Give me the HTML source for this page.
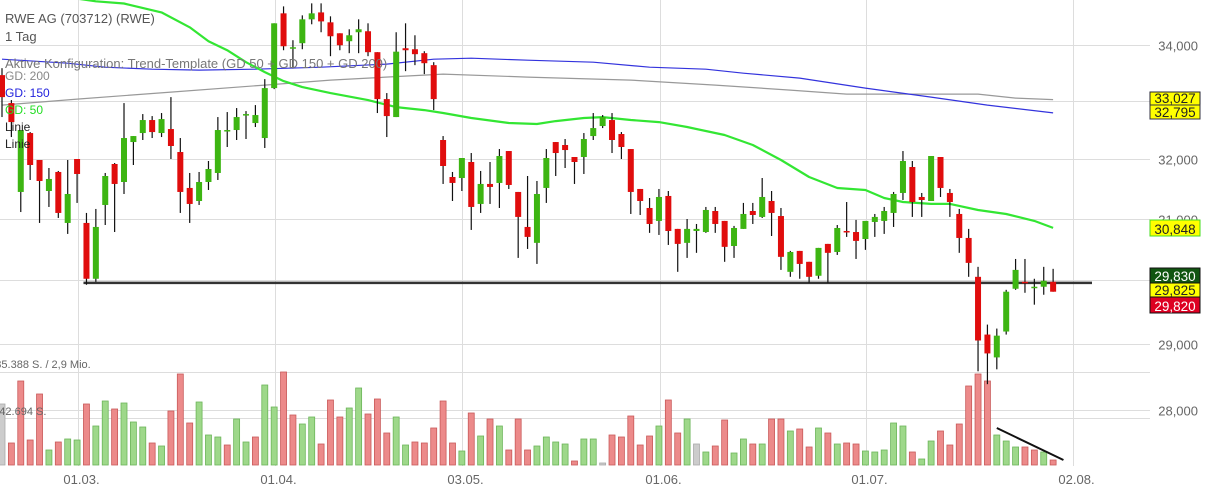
<!DOCTYPE html>
<html><head><meta charset="utf-8"><style>
html,body{margin:0;padding:0;background:#fff;}
svg{display:block;font-family:"Liberation Sans",sans-serif;}
</style></head><body>
<svg id="chart" width="1205" height="493" viewBox="0 0 1205 493" xmlns="http://www.w3.org/2000/svg">
<g id="grid"></g>
<g id="vol"></g>
<g id="ma"></g>
<g id="candles"></g>
<g id="axis"></g>
<g id="legend">
<text x="5" y="23" font-size="13" fill="#555">RWE AG (703712) (RWE)</text>
<text x="5" y="41" font-size="13" fill="#555">1 Tag</text>
<text x="5" y="68" font-size="13" fill="#777">Aktive Konfiguration: Trend-Template (GD 50 + GD 150 + GD 200)</text>
<text x="5" y="80" font-size="12" fill="#888">GD: 200</text>
<text x="5" y="97" font-size="12" fill="#2222dd">GD: 150</text>
<text x="5" y="114" font-size="12" fill="#22dd22">GD: 50</text>
<text x="5" y="131" font-size="12" fill="#222">Linie</text>
<text x="5" y="148" font-size="12" fill="#222">Linie</text>
<text x="-20" y="368" font-size="11" fill="#666">2.885.388 S. / 2,9 Mio.</text>
<text x="-16" y="415" font-size="11" fill="#666">1.442.694 S.</text>
</g>
</svg>
<script>
const opens=[33460,32966,31444,32445,31983,31460,31780,30930,32000,30930,30025,31227,31915,31611,32290,32445,32670,32445,32514,32119,31511,31293,31611,31763,32480,32497,32757,32618,32359,33230,34578,33942,34033,34468,34595,34413,34213,34069,34232,34250,33871,33036,32722,33942,33924,33853,33638,32325,31695,31678,31949,31244,31578,31595,32136,31444,30864,30604,31511,32290,32239,32034,32034,32393,32566,32670,32428,32170,31494,31177,30963,31377,30832,30604,30798,30781,31127,30963,30553,30832,31127,31029,31293,31044,30136,30473,30297,30073,30587,30456,30798,30781,30667,30946,30963,31095,31427,31864,31360,31293,32034,31427,31078,30684,30056,29147,28795,29194,29866,29977,29881,29898,29977];
const highs=[33584,33019,32497,32462,31983,31847,31797,31983,32000,31095,31161,31763,31932,32966,32393,32774,32739,32792,33071,32359,31763,31780,31966,32722,32809,32879,32826,32931,33389,34395,34706,34087,34541,34762,34762,34523,34213,34286,34468,34395,33871,33142,34232,34395,34177,33888,33691,32393,31780,32017,32102,31797,31949,32170,32136,31444,31712,31628,32170,32290,32342,32034,32445,32792,32757,32792,32462,32170,31494,31343,31494,31460,30832,30995,30913,31194,31194,30963,30881,31261,31261,31678,31460,31177,30473,30473,30297,30522,30587,30896,31276,30980,30963,31078,31194,31444,32136,31966,31427,32051,32034,31494,31161,30832,30216,29302,29240,29849,30343,30343,30025,30216,30184];
const lows=[32722,32376,31110,31645,30930,31194,31012,30750,31261,29929,29977,30896,30781,31410,31898,32325,32359,32376,32000,31095,30930,31227,31477,31645,32205,32325,32342,32549,32188,33212,33906,33584,33924,34377,34232,33799,33906,33853,33853,33799,32792,32376,32722,33531,33638,33478,32844,31578,31293,31460,30815,31095,31244,31177,31494,30360,30505,30263,31261,31712,31847,31578,31746,32325,32531,32102,32000,31078,31061,30767,30733,30570,30136,30360,30442,30767,30767,30297,30360,30832,30913,31012,30716,30167,30056,30025,29960,30025,29960,30408,30701,30343,30490,30701,30750,30864,31310,31029,31029,31293,31360,31029,30442,30056,28583,28388,28613,29147,29849,29802,29614,29771,29819];
const closes=[33071,32635,32497,31898,31628,31662,31095,31410,31746,30025,30864,31712,31578,32359,32393,32670,32462,32687,32222,31444,31244,31611,31830,32497,32497,32722,32774,32757,33230,34395,33978,33960,34468,34578,34430,34159,33996,34177,34286,33871,33036,32739,33880,33906,33835,33673,33036,31881,31595,32017,31194,31578,31528,32051,31561,31029,30701,31410,32017,32102,32153,31949,32342,32531,32722,32325,32205,31444,31293,30913,31360,30798,30587,30832,30832,31144,30913,30539,30847,31078,31061,31360,31095,30377,30456,30263,30056,30522,30442,30847,30781,30636,30963,31029,31127,31410,31966,31276,31310,32051,31511,31276,30684,30280,29055,28856,29130,29819,30167,29960,29898,29993,29819];
const volumes=[1891,682,2604,775,2201,465,713,806,775,1891,1209,1984,1736,1922,1333,1178,682,589,1674,2821,1302,1953,930,868,620,1426,713,868,2480,1798,2883,1550,1271,1488,651,2015,1488,1767,2387,1581,2046,992,1488,620,713,682,1147,1984,682,434,1612,899,1426,1209,465,1426,465,589,868,713,651,124,806,806,62,930,868,1519,620,899,1209,2015,992,1426,651,403,589,1395,372,806,651,651,1426,1426,1054,1116,558,1147,992,651,682,651,434,403,465,1302,1209,403,186,744,1054,620,1271,2449,2821,2604,930,744,558,558,465,403,155];
const volDir="n d d d d u d u u d u u d u u u d u d d d u u u d u u d u u d d u u d d d u u d d d u u d d d d d u d u d u d d d u u u u d u u n d d d d d u d d u n u d d u u d u d d u d d u d u d d u u u u u d u u d d d d d d u u u d d u d".split(" ");
const ma50Idx=[8,10,13,17,20,22,24,26,28,30,32,35,39,42,45,47,50,54,57,59,62,64,67,70,73,77,80,83,86,89,92,94,96,99,101,102,104,107,110,112];
const ma50Val=[34850,34800,34760,34596,34322,34069,33906,33691,33513,33353,33247,33142,33019,32896,32844,32792,32705,32618,32601,32652,32705,32722,32670,32635,32549,32411,32239,31983,31695,31511,31477,31343,31276,31244,31244,31211,31144,31078,30963,30848];
const ma150Idx=[0,7,11,16,21,27,34,41,46,50,56,63,69,75,79,85,92,99,105,112];
const ma150Val=[33745,33673,33602,33566,33549,33566,33602,33656,33745,33763,33727,33691,33602,33566,33495,33407,33230,33071,32931,32795];
const ma200Idx=[0,8,18,28,35,47,56,67,76,84,90,104,108,112];
const ma200Val=[32931,33036,33159,33283,33371,33478,33424,33371,33283,33194,33124,33124,33054,33027];
const supportLevel=29960;
const priceTicks=[34000,33000,32000,31000,30000,29000,28000];
const priceTickLabels=["34,000","33,000","32,000","31,000","30,000","29,000","28,000"];
const dateGridIdx=[8.1,29.1,49,70.1,92.06,114.1];
const dateLabels=["01.03.","01.04.","03.05.","01.06.","01.07.","02.08."];

const NS="http://www.w3.org/2000/svg";
const X=i=>2+i*9.385;
const Y=p=>159-1880*Math.log(p/32000);
const VY=v=>465-v/31;
function mk(tag,attrs,parent){const e=document.createElementNS(NS,tag);for(const k in attrs)e.setAttribute(k,attrs[k]);parent.appendChild(e);return e;}
const grid=document.getElementById('grid'),axis=document.getElementById('axis'),vol=document.getElementById('vol'),ma=document.getElementById('ma'),cg=document.getElementById('candles');

priceTicks.forEach((p,k)=>{
  const y=Math.round(Y(p))+0.5;
  const l=mk('line',{x1:0,x2:1150,y1:y,y2:y,stroke:'#ddd','stroke-width':1},grid);
  
  
  const t=mk('text',{x:1198,y:y+5,'text-anchor':'end','font-size':13,fill:'#666'},axis);
  
  
  t.textContent=priceTickLabels[k];
});
[372.5,418.5].forEach(y=>{
  const l=mk('line',{x1:0,x2:1150,y1:y,y2:y,stroke:'#ddd','stroke-width':1},grid);
  
  
});
dateGridIdx.forEach((d,k)=>{
  const x=Math.round(X(d))+0.5;
  const l=mk('line',{x1:x,x2:x,y1:0,y2:466,stroke:'#ddd','stroke-width':1},grid);
  
  
  const t=mk('text',{x:x+3,y:484,'text-anchor':'middle','font-size':13,fill:'#666'},axis);
  
  
  t.textContent=dateLabels[k];
});

volumes.forEach((v,i)=>{
  const d=volDir[i];
  const fill=d==='u'?'#9ed88a':d==='d'?'#ec8a8a':'#ccc';
  const st=d==='u'?'#6cb55a':d==='d'?'#c95a5a':'#aaa';
  const y=VY(v);
  const r=mk('rect',{x:X(i)-3,y:y,width:6,height:465-y,fill:fill,stroke:st,'stroke-width':0.8},vol);
  
  
});
const tl=mk('line',{x1:X(106),y1:428,x2:X(113.1),y2:460,stroke:'#111','stroke-width':2},vol);



function maPath(idx,val,color,w,name){
  let d='';
  idx.forEach((ix,k)=>{d+=(k?'L':'M')+X(ix).toFixed(1)+','+Y(val[k]).toFixed(1);});
  const p=mk('path',{d:d,fill:'none',stroke:color,'stroke-width':w,'stroke-linejoin':'round'},ma);
  
  
}
maPath(ma200Idx,ma200Val,'#999',1.2,'gd200-line');
maPath(ma150Idx,ma150Val,'#3333dd',1.2,'gd150-line');
maPath(ma50Idx,ma50Val,'#33e633',2.2,'gd50-line');

const sy=Y(supportLevel);
const sl=mk('line',{x1:X(9)-3,x2:1092,y1:sy,y2:sy,stroke:'#333','stroke-width':2.5},ma);



opens.forEach((o,i)=>{
  const c=closes[i],x=X(i);
  const up=c>=o;
  const w=mk('line',{x1:x,x2:x,y1:Y(highs[i]),y2:Y(lows[i]),stroke:'#111','stroke-width':1.2},cg);
  
  
  const top=Y(Math.max(o,c)),bot=Y(Math.min(o,c));
  const r=mk('rect',{x:x-3,y:top,width:6,height:Math.max(1.5,bot-top),fill:up?'#3db512':'#e00d0d'},cg);
  
  
});

function box(y1,y2,bg,border,color,txt,name){
  const r=mk('rect',{x:1150,y:y1,width:50,height:y2-y1,fill:bg,stroke:border,'stroke-width':1},axis);
  
  
  const t=mk('text',{x:1175,y:y2-2,'text-anchor':'middle','font-size':13.5,fill:color},axis);
  
  
  t.textContent=txt;
}
box(92,105,'#ffff00','#223','#222','33,027','gd200-value');
box(105,119,'#ffff00','#334','#222','32,795','gd150-value');
box(220,236,'#ffff00','#44dd22','#222','30,848','gd50-value');
box(268,283,'#115511','#111','#fff','29,830','high-value');
box(283,297,'#ffff00','#111','#222','29,825','last-value');
box(297,313,'#dd0022','#111','#fff','29,820','low-value');
</script>
</body></html>
